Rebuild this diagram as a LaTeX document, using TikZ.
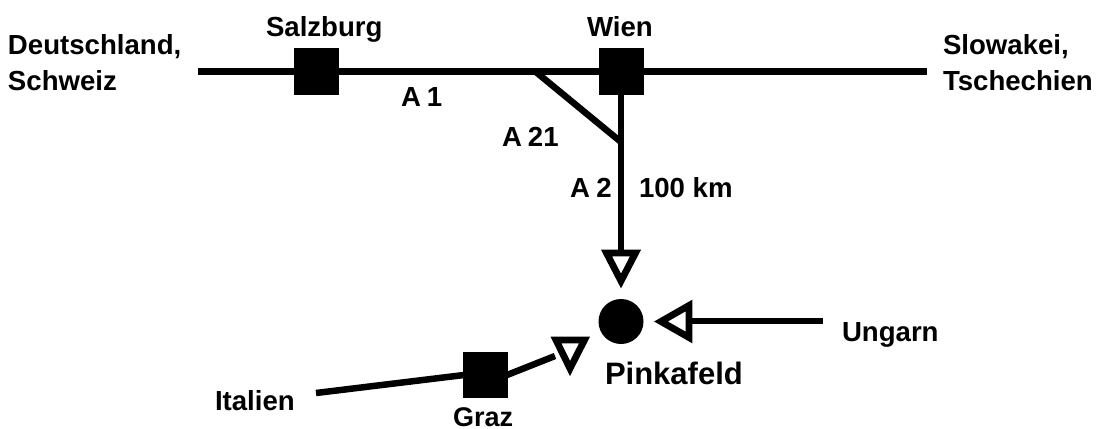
\documentclass[tikz,border=0pt]{standalone}
\usepackage{fontspec}
\setmainfont{Liberation Sans}
\tikzset{
  road/.style={draw=black,line width=6.5pt,line cap=butt},
  city/.style={draw=none,fill=black,minimum width=45pt,minimum height=46.5pt,inner sep=0pt,outer sep=0pt,rectangle},
  dest/.style={draw=none,fill=black,circle,minimum size=45pt,inner sep=0pt,outer sep=0pt},
  tri/.style={draw=black,line width=6.8pt,line join=miter,miter limit=10,fill=white},
  lab/.style={font=\bfseries\fontsize{27.6}{30}\selectfont,inner sep=0pt,outer sep=0pt,anchor=base west,align=left},
  biglab/.style={font=\bfseries\fontsize{31}{34}\selectfont,inner sep=0pt,outer sep=0pt,anchor=base west}
}
\begin{document}
\begin{tikzpicture}[x=1pt,y=-1pt]
\useasboundingbox (0,0) rectangle (1110,428);
% free ends and junctions
\coordinate (westend) at (197.5,71.25);
\coordinate (eastend) at (927,71.25);
\coordinate (fork) at (535,71.25);
\coordinate (merge) at (621,142);
\coordinate (southtip) at (621,250);
\coordinate (ungarnend) at (823,321);
\coordinate (ungarntip) at (689,321);
\coordinate (italyend) at (316,393);
\coordinate (graztip) at (555,356);
% city markers
\node[city] (salzburg) at (316.3,71.25) {};
\node[city] (wien) at (621,71.25) {};
\node[city] (graz) at (485.5,375) {};
\node[dest] (pinkafeld) at (621,321.5) {};
% roads
\draw[road] (westend) -- (salzburg);
\draw[road] (salzburg) -- (wien);
\draw[road] (wien) -- (eastend);
\draw[road] (fork) -- (merge);
\draw[road] (wien) -- (southtip);
\draw[road] (ungarnend) -- (ungarntip);
\draw[road] (italyend) -- ([xshift=1pt]graz.west);
\draw[road] ([xshift=-1pt]graz.east) -- (graztip);
% arrowheads
\draw[tri] (606.5,253) -- (635.5,253) -- (621,281) -- cycle;
\draw[tri] (689,305.5) -- (689,337.5) -- (661,321.5) -- cycle;
\draw[tri] (556,340) -- (584.5,340) -- (570,368.5) -- cycle;
% labels
\node[lab] (l1) at (8,55) {Deutschland,};
\node[lab] (l2) at (8,90) {Schweiz};
\node[lab] (l3) at (266,37) {Salzburg};
\node[lab] (l4) at (587,37) {Wien};
\node[lab] (l5) at (943,55) {Slowakei,};
\node[lab] (l6) at (943,90) {Tschechien};
\node[lab] (l7) at (401,106) {A\hspace{6pt}1};
\node[lab] (l8) at (502,146) {A\hspace{6pt}21};
\node[lab] (l9) at (570,197) {A\hspace{6.5pt}2};
\node[lab] (l10) at (639,197) {100 km};
\node[lab] (l11) at (842,341) {Ungarn};
\node[lab] (l12) at (215,410) {Italien};
\node[lab,font=\bfseries\fontsize{27}{30}\selectfont] (l13) at (453,426) {Graz};
\node[biglab] (l14) at (605,384) {Pinkafeld};
\end{tikzpicture}
\end{document}
